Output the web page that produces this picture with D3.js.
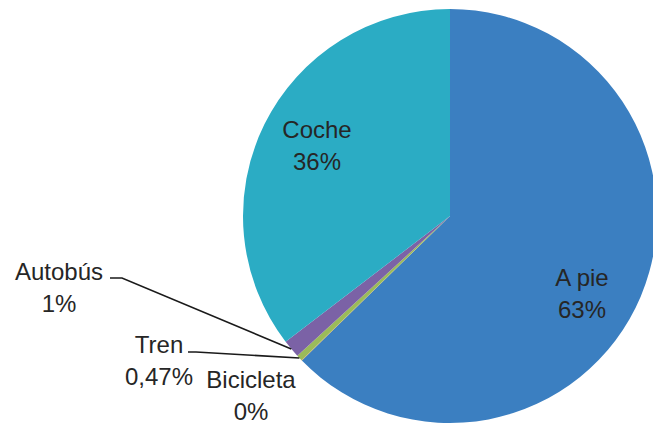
<!DOCTYPE html>
<html><head><meta charset="utf-8">
<script src="https://cdn.jsdelivr.net/npm/d3@7"></script>
<style>html,body{margin:0;padding:0;background:#fff;}svg{display:block;}</style>
</head><body>
<svg id="chart" width="653" height="424"></svg>
<script>
const categories = ["A pie", "Bicicleta", "Tren", "Autobús", "Coche"];
const values = [62.7, 0.04, 0.47, 1.4, 35.4];
const valueLabels = ["63%", "0%", "0,47%", "1%", "36%"];
const colors = ["#3B7FC1", "#E8913A", "#9BBB59", "#7B62A6", "#2BACC4"];

const svg = d3.select("#chart");
const cx = 450, cy = 216, R = 207;
const g = svg.append("g").attr("transform", `translate(${cx},${cy})`);

const data = categories.map((c, i) => ({cat: c, value: values[i], label: valueLabels[i], color: colors[i]}));
const pie = d3.pie().sort(null).value(d => d.value);
const arcs = pie(data);
const arc = d3.arc().innerRadius(0).outerRadius(R);
const edge = d3.arc().innerRadius(R).outerRadius(R);

g.selectAll("path.slice").data(arcs).join("path")
  .attr("class", "slice")
  .attr("d", arc)
  .attr("fill", d => d.data.color);

// label layout (absolute positions of text blocks, baseline of first line)
const labelPos = {
  "A pie": {x: 582, y: 286, anchor: "middle"},
  "Coche": {x: 317, y: 138, anchor: "middle"},
  "Autobús": {x: 59, y: 280, anchor: "middle", leader: [[110, 278], [122, 278]]},
  "Tren": {x: 159, y: 353, anchor: "middle", leader: [[188, 352], [196, 352]]},
  "Bicicleta": {x: 251, y: 388, anchor: "middle"}
};

const lg = svg.append("g");
arcs.forEach(a => {
  const p = labelPos[a.data.cat];
  if (p.leader) {
    const c = edge.centroid(a);
    const pts = p.leader.concat([[c[0] + cx, c[1] + cy]]);
    lg.append("path")
      .attr("d", d3.line()(pts))
      .attr("fill", "none")
      .attr("stroke", "#1a1a1a")
      .attr("stroke-width", 1.6);
  }
  const t = lg.append("text")
    .attr("x", p.x).attr("y", p.y)
    .attr("text-anchor", p.anchor)
    .attr("font-family", "'Liberation Sans', Arial, sans-serif")
    .attr("font-size", 24)
    .attr("fill", "#262626");
  t.append("tspan").attr("x", p.x).text(a.data.cat);
  t.append("tspan").attr("x", p.x).attr("dy", 32).text(a.data.label);
});
</script>
</body></html>
